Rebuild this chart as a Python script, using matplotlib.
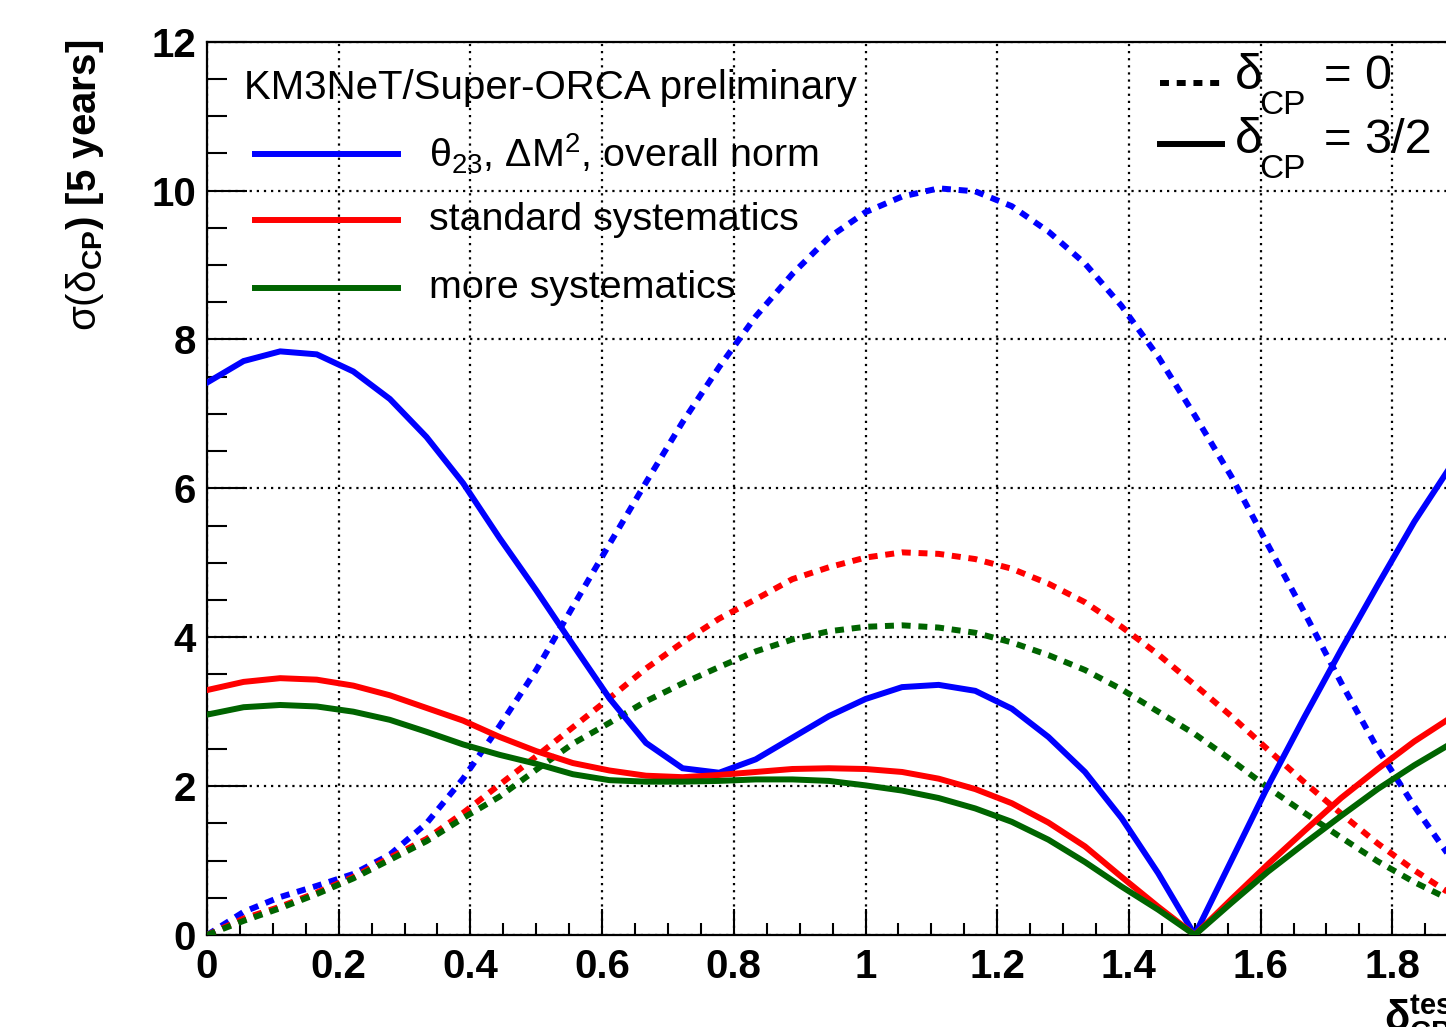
import numpy as np
import matplotlib
matplotlib.use("Agg")
import matplotlib.pyplot as plt
from matplotlib.lines import Line2D

plt.rcParams['font.family'] = ['Liberation Sans', 'DejaVu Sans']
plt.rcParams['mathtext.fontset'] = 'custom'
plt.rcParams['mathtext.rm'] = 'Liberation Sans'
plt.rcParams['mathtext.it'] = 'Liberation Sans:italic'
plt.rcParams['mathtext.bf'] = 'Liberation Sans:bold'
plt.rcParams['mathtext.default'] = 'regular'

# delta_CP test values (units of pi), 37 points from 0 to 2
delta_test = np.arange(37) / 18.0

# true delta_CP = 0  (dotted)
blue_d0 = [0.0, 0.31, 0.51, 0.66, 0.82, 1.08, 1.50, 2.10, 2.81, 3.56,
           4.41, 5.25, 6.08, 6.89, 7.63, 8.31, 8.88, 9.37, 9.71, 9.92,
           10.03, 9.99, 9.79, 9.45, 9.02, 8.45, 7.77, 6.98, 6.16, 5.24,
           4.33, 3.39, 2.50, 1.73, 1.03, 0.45, 0.0]
red_d0 = [0.0, 0.22, 0.38, 0.57, 0.78, 1.04, 1.29, 1.64, 2.02, 2.40,
          2.79, 3.18, 3.58, 3.93, 4.25, 4.51, 4.78, 4.94, 5.07, 5.14,
          5.12, 5.05, 4.92, 4.72, 4.47, 4.14, 3.77, 3.36, 2.94, 2.49,
          2.05, 1.63, 1.23, 0.87, 0.55, 0.25, 0.0]
green_d0 = [0.0, 0.19, 0.36, 0.55, 0.76, 1.01, 1.26, 1.57, 1.86, 2.22,
            2.57, 2.85, 3.14, 3.38, 3.60, 3.81, 3.97, 4.08, 4.14, 4.16,
            4.13, 4.06, 3.93, 3.76, 3.56, 3.30, 3.00, 2.70, 2.35, 1.98,
            1.64, 1.31, 0.99, 0.71, 0.47, 0.22, 0.0]

# true delta_CP = 3/2  (solid)
blue_d32 = [7.42, 7.71, 7.84, 7.80, 7.57, 7.20, 6.69, 6.07, 5.33, 4.63,
            3.90, 3.18, 2.58, 2.24, 2.18, 2.36, 2.65, 2.94, 3.17, 3.33,
            3.36, 3.28, 3.04, 2.66, 2.19, 1.57, 0.83, 0.0, 1.00, 2.00,
            2.93, 3.83, 4.70, 5.55, 6.30, 7.00, 7.42]
red_d32 = [3.29, 3.40, 3.45, 3.43, 3.35, 3.22, 3.05, 2.88, 2.66, 2.47,
           2.31, 2.21, 2.14, 2.12, 2.15, 2.19, 2.23, 2.24, 2.23, 2.19,
           2.10, 1.96, 1.77, 1.51, 1.19, 0.78, 0.38, 0.0, 0.48, 0.95,
           1.40, 1.84, 2.23, 2.60, 2.92, 3.15, 3.29]
green_d32 = [2.96, 3.06, 3.09, 3.07, 3.00, 2.89, 2.73, 2.56, 2.42, 2.30,
             2.16, 2.08, 2.06, 2.06, 2.07, 2.09, 2.09, 2.07, 2.01, 1.94,
             1.84, 1.70, 1.52, 1.28, 0.98, 0.65, 0.34, 0.0, 0.43, 0.85,
             1.23, 1.60, 1.96, 2.28, 2.57, 2.80, 2.96]

etiquetas = [r'$\theta_{23}$, $\Delta M^{2}$, overall norm',
             'standard systematics',
             'more systematics']
colores = ['#0000ff', '#ff0000', '#006400']
valores_cp = ['0', '3/2']

W, H = 1446, 1027
fig = plt.figure(figsize=(W / 100, H / 100), dpi=100)
fig.patch.set_facecolor('white')

def fx(px):
    return px / W

def fy(py):
    return 1 - py / H

# axes run 0..2 but the picture is cut on the right
ax = fig.add_axes([fx(207), fy(935), 1317 / W, 893.3 / H])
ax.set_xlim(0, 2)
ax.set_ylim(0, 12)

punteado = (0, (1.5, 1.3))
lw = 4.3
for serie, c in zip([blue_d0, red_d0, green_d0], colores):
    ax.plot(delta_test, serie, color=c, lw=lw, ls=punteado, zorder=3)
for serie, c in zip([blue_d32, red_d32, green_d32], colores):
    ax.plot(delta_test, serie, color=c, lw=lw, ls='-', zorder=4,
            solid_joinstyle='miter')

ax.set_xticks(np.arange(0, 2.01, 0.2))
ax.set_xticks(np.arange(0, 2.01, 0.05), minor=True)
ax.set_yticks(np.arange(0, 12.1, 2))
ax.set_yticks(np.arange(0, 12.1, 0.5), minor=True)
ax.set_xticklabels(['0', '0.2', '0.4', '0.6', '0.8', '1', '1.2', '1.4',
                    '1.6', '1.8', '2'])
ax.tick_params(axis='both', which='both', direction='in', width=1.5,
               top=False, right=False, labelsize=29)
ax.tick_params(axis='x', which='major', length=19, pad=9)
ax.tick_params(axis='x', which='minor', length=9)
ax.tick_params(axis='y', which='major', length=29, pad=8)
ax.tick_params(axis='y', which='minor', length=14.5)
for lab in ax.get_xticklabels() + ax.get_yticklabels():
    lab.set_fontweight('bold')
for s in ax.spines.values():
    s.set_linewidth(1.6)

ax.grid(True, which='major', color='black', lw=1.6, ls=(0, (1, 2.2)))
ax.set_axisbelow(True)

# axis titles
fig.text(fx(85), fy(40),
         r'$\sigma(\delta_{\mathbf{CP}}\mathbf{)\ [5\ years]}$',
         rotation=90, ha='center', va='top', fontsize=29)
fig.text(fx(1384), fy(992), r'$\delta_{\mathbf{CP}}^{\mathbf{test}}$',
         ha='left', va='top', fontsize=30, fontweight='bold')

# legend top-left
fig.text(fx(244), fy(88), 'KM3NeT/Super-ORCA preliminary', fontsize=29,
         ha='left', va='center')
for i, (txt, c) in enumerate(zip(etiquetas, colores)):
    yy = 153.5 + i * 67
    fig.add_artist(Line2D([fx(255), fx(398)], [fy(yy), fy(yy)], color=c,
                          lw=lw, transform=fig.transFigure))
    fig.text(fx(429), fy(yy), txt, fontsize=28.4, ha='left', va='center')

# legend top-right
fig.add_artist(Line2D([fx(1160), fx(1222)], [fy(83), fy(83)], color='black',
                      lw=lw, ls=punteado, transform=fig.transFigure))
fig.add_artist(Line2D([fx(1160), fx(1222)], [fy(144), fy(144)],
                      color='black', lw=lw, transform=fig.transFigure))
for base, val in zip([89, 153], valores_cp):
    fig.text(fx(1234), fy(base), r'$\delta$', fontsize=36,
             ha='left', va='baseline')
    fig.text(fx(1259), fy(base + 25), 'CP', fontsize=24,
             ha='left', va='baseline')
    fig.text(fx(1324), fy(base), '=', fontsize=34, ha='left',
             va='baseline')
    fig.text(fx(1364), fy(base), val, fontsize=35, ha='left',
             va='baseline')

fig.savefig('out.png', dpi=100)
